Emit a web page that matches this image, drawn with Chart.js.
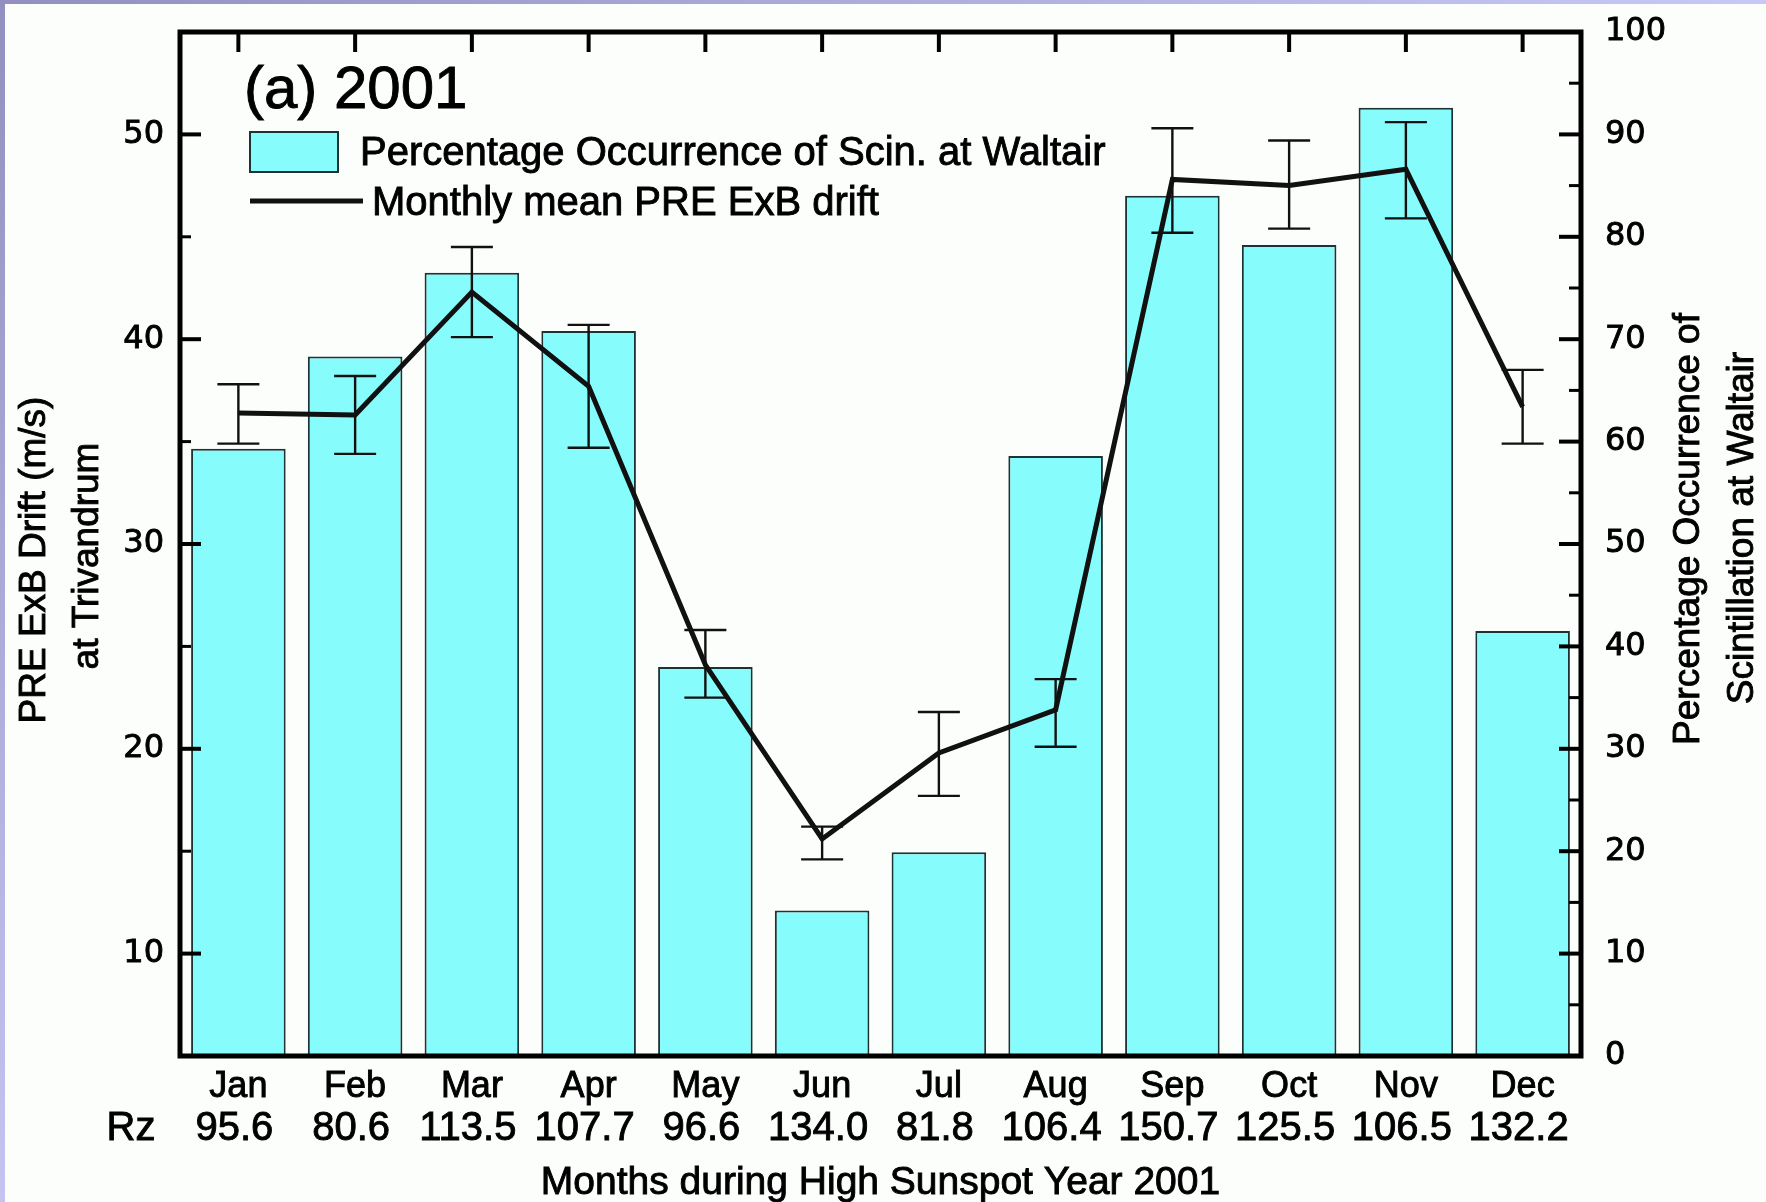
<!DOCTYPE html>
<html>
<head>
<meta charset="utf-8">
<script src="https://cdn.jsdelivr.net/npm/chart.js@4.4.0/dist/chart.umd.min.js"></script>
<style>
html,body{margin:0;padding:0;background:#fcfefc;overflow:hidden}
#wrap{width:1766px;height:1202px;position:relative}
</style>
</head>
<body>
<div id="wrap"><canvas id="c" width="1766" height="1202"></canvas></div>
<script>
// ---- data ----
const months = ['Jan','Feb','Mar','Apr','May','Jun','Jul','Aug','Sep','Oct','Nov','Dec'];
const rzValues = ['95.6','80.6','113.5','107.7','96.6','134.0','81.8','106.4','150.7','125.5','106.5','132.2'];
const scintPercent = [59.3, 68.3, 76.5, 70.8, 38.0, 14.2, 19.9, 58.6, 84.0, 79.2, 92.6, 41.5];
const preDrift = [36.4, 36.3, 42.3, 37.7, 24.1, 15.6, 19.8, 21.9, 47.8, 47.5, 48.3, 36.7];
const driftErrHigh = [37.8, 38.2, 44.5, 40.7, 25.8, 16.2, 21.8, 23.4, 50.3, 49.7, 50.6, 38.5];
const driftErrLow = [34.9, 34.4, 40.1, 34.7, 22.5, 14.6, 17.7, 20.1, 45.2, 45.4, 45.9, 34.9];
const leftTickLabels = [10, 20, 30, 40, 50];
const rightTickLabels = [0, 10, 20, 30, 40, 50, 60, 70, 80, 90, 100];
const panelLabel = '(a) 2001';
const rzLabel = 'Rz';
const xTitle = 'Months during High Sunspot Year 2001';
const leftTitle = ['PRE ExB Drift (m/s)', 'at Trivandrum'];
const rightTitle = ['Percentage Occurrence of', 'Scintillation at Waltair'];

const SANS = '"Liberation Sans", Arial, sans-serif';
const NUM = '"DejaVu Sans", sans-serif';
const BAR_FILL = '#86fcfc';
const BAR_EDGE = '#1e3434';
const TEXT_STROKE = 0.9;

const bgPlugin = {
  id: 'bg',
  beforeDraw(chart) {
    const ctx = chart.ctx, W = chart.width, H = chart.height;
    ctx.save();
    ctx.fillStyle = '#fcfefc';
    ctx.fillRect(0, 0, W, H);
    let g = ctx.createLinearGradient(0, 0, W, 0);
    g.addColorStop(0, '#9290c0');
    g.addColorStop(1, '#c8c8f6');
    ctx.fillStyle = g;
    ctx.fillRect(0, 0, W, 4);
    g = ctx.createLinearGradient(0, 0, 0, H);
    g.addColorStop(0, '#9290c0');
    g.addColorStop(1, '#c4c4f2');
    ctx.fillStyle = g;
    ctx.fillRect(0, 0, 5, H);
    ctx.restore();
  }
};

function heavyText(ctx, txt, x, y) {
  ctx.fillText(txt, x, y);
  ctx.lineWidth = TEXT_STROKE;
  ctx.strokeStyle = '#000';
  ctx.strokeText(txt, x, y);
}

const overlayPlugin = {
  id: 'overlay',
  afterDatasetsDraw(chart) {
    const ctx = chart.ctx, a = chart.chartArea;
    const xs = chart.scales.x, yl = chart.scales.yL, yr = chart.scales.yR;
    ctx.save();
    // error bars
    ctx.strokeStyle = '#111';
    ctx.lineWidth = 2.4;
    const cap = 21;
    for (let i = 0; i < months.length; i++) {
      const x = xs.getPixelForValue(i);
      const yh = yl.getPixelForValue(driftErrHigh[i]);
      const yb = yl.getPixelForValue(driftErrLow[i]);
      ctx.beginPath();
      ctx.moveTo(x, yh); ctx.lineTo(x, yb);
      ctx.moveTo(x - cap, yh); ctx.lineTo(x + cap, yh);
      ctx.moveTo(x - cap, yb); ctx.lineTo(x + cap, yb);
      ctx.stroke();
    }
    // inward tick marks
    ctx.strokeStyle = '#000';
    yl.ticks.forEach(t => {
      if (t.value <= yl.min || t.value >= yl.max) return;
      const y = yl.getPixelForValue(t.value);
      const major = leftTickLabels.includes(t.value);
      ctx.lineWidth = major ? 4 : 3;
      ctx.beginPath(); ctx.moveTo(a.left, y); ctx.lineTo(a.left + (major ? 21 : 11), y); ctx.stroke();
    });
    yr.ticks.forEach(t => {
      if (t.value <= yr.min || t.value >= yr.max) return;
      const y = yr.getPixelForValue(t.value);
      const major = rightTickLabels.includes(t.value);
      ctx.lineWidth = major ? 4 : 3;
      ctx.beginPath(); ctx.moveTo(a.right, y); ctx.lineTo(a.right - (major ? 22 : 12), y); ctx.stroke();
    });
    ctx.lineWidth = 4;
    for (let i = 0; i < months.length; i++) {
      const x = xs.getPixelForValue(i);
      ctx.beginPath(); ctx.moveTo(x, a.top); ctx.lineTo(x, a.top + 20); ctx.stroke();
    }
    // frame
    ctx.lineWidth = 5;
    ctx.strokeRect(a.left, a.top, a.right - a.left, a.bottom - a.top);

    // panel label
    ctx.fillStyle = '#000';
    ctx.textAlign = 'left';
    ctx.textBaseline = 'alphabetic';
    ctx.font = '60px ' + SANS;
    heavyText(ctx, panelLabel, a.left + 64, 108);

    // legend
    const ds = chart.data.datasets;
    ctx.fillStyle = BAR_FILL;
    ctx.fillRect(a.left + 70, 132, 88, 40);
    ctx.strokeStyle = BAR_EDGE; ctx.lineWidth = 2;
    ctx.strokeRect(a.left + 70, 132, 88, 40);
    ctx.fillStyle = '#000';
    ctx.font = '40px ' + SANS;
    heavyText(ctx, ds[1].label, a.left + 180, 165);
    ctx.strokeStyle = '#111'; ctx.lineWidth = 5;
    ctx.beginPath(); ctx.moveTo(a.left + 70, 201); ctx.lineTo(a.left + 183, 201); ctx.stroke();
    heavyText(ctx, ds[0].label, a.left + 192, 215);

    // Rz row
    ctx.font = '40px ' + SANS;
    ctx.textAlign = 'center';
    for (let i = 0; i < months.length; i++) {
      heavyText(ctx, rzValues[i], xs.getPixelForValue(i) - 4, 1140);
    }
    heavyText(ctx, rzLabel, 131, 1140);

    // x title
    ctx.font = '39px ' + SANS;
    heavyText(ctx, xTitle, (a.left + a.right) / 2, 1194);

    // y titles
    ctx.font = '37px ' + SANS;
    ctx.textBaseline = 'middle';
    const rot = (txt, x, y) => { ctx.save(); ctx.translate(x, y); ctx.rotate(-Math.PI / 2); heavyText(ctx, txt, 0, 0); ctx.restore(); };
    rot(leftTitle[0], 35, 560);
    rot(leftTitle[1], 88, 556);
    rot(rightTitle[0], 1689, 529);
    rot(rightTitle[1], 1743, 528);
    ctx.restore();
  }
};

function fixVertical(width) {
  return function (s) { s.width = width; s.paddingTop = 0; s.paddingBottom = 0; };
}

new Chart(document.getElementById('c'), {
  data: {
    labels: months,
    datasets: [
      {
        type: 'line',
        label: 'Monthly mean PRE ExB drift',
        data: preDrift,
        yAxisID: 'yL',
        borderColor: '#111',
        borderWidth: 5,
        pointRadius: 0,
        tension: 0,
        order: 0
      },
      {
        type: 'bar',
        label: 'Percentage Occurrence of Scin. at Waltair',
        data: scintPercent,
        yAxisID: 'yR',
        backgroundColor: BAR_FILL,
        borderColor: BAR_EDGE,
        borderWidth: 2,
        barPercentage: 0.81,
        categoryPercentage: 1.0,
        order: 1
      }
    ]
  },
  options: {
    responsive: false,
    devicePixelRatio: 1,
    animation: false,
    layout: { padding: { top: 32, left: 0, right: 0, bottom: 0 } },
    plugins: { legend: { display: false }, tooltip: { enabled: false }, title: { display: false } },
    scales: {
      x: {
        type: 'category',
        offset: true,
        grid: { display: false, drawTicks: false },
        border: { display: false },
        ticks: { color: '#000', font: { family: SANS, size: 36 }, padding: 9, maxRotation: 0, autoSkip: false,
                 textStrokeColor: '#000', textStrokeWidth: TEXT_STROKE },
        afterFit(s) { s.height = 146; s.paddingLeft = 0; s.paddingRight = 0; }
      },
      yL: {
        position: 'left',
        min: 5, max: 55,
        grid: { display: false, drawTicks: false },
        border: { display: false },
        ticks: {
          stepSize: 5, color: '#000', font: { family: NUM, size: 32 }, padding: 16,
          textStrokeColor: '#000', textStrokeWidth: TEXT_STROKE,
          callback: v => leftTickLabels.includes(v) ? String(v) : ''
        },
        afterFit: fixVertical(180)
      },
      yR: {
        position: 'right',
        min: 0, max: 100,
        grid: { display: false, drawTicks: false },
        border: { display: false },
        ticks: {
          stepSize: 5, color: '#000', font: { family: NUM, size: 32 }, padding: 24,
          textStrokeColor: '#000', textStrokeWidth: TEXT_STROKE,
          callback: v => rightTickLabels.includes(v) ? String(v) : ''
        },
        afterFit: fixVertical(185)
      }
    }
  },
  plugins: [bgPlugin, overlayPlugin]
});
</script>
</body>
</html>
